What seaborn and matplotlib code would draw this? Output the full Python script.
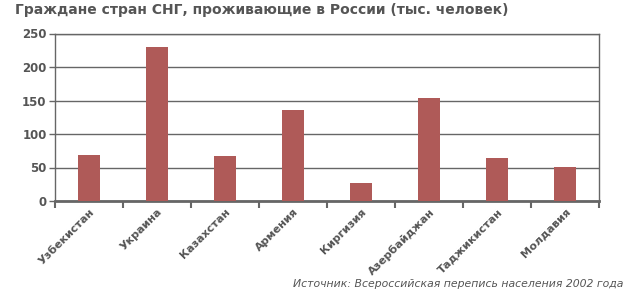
import matplotlib
matplotlib.use("Agg")
import matplotlib.pyplot as plt
import seaborn as sns
import pandas as pd
import numpy as np

countries = ["Узбекистан", "Украина", "Казахстан", "Армения", "Киргизия",
             "Азербайджан", "Таджикистан", "Молдавия"]
values = [69, 230, 67, 136, 27, 154, 64, 51]
yticks = [0, 50, 100, 150, 200, 250]

title = "Граждане стран СНГ, проживающие в России (тыс. человек)"
source = "Источник: Всероссийская перепись населения 2002 года"

sns.set_theme(style="white")
plt.rcParams['font.family'] = ['DejaVu Sans']

df = pd.DataFrame({"country": countries, "value": values})

fig = plt.figure(figsize=(6.29, 2.93), dpi=100)
ax = fig.add_axes([55/629, 1-201/293, (599-55)/629, (201-33.5)/293])

sns.barplot(data=df, x="country", y="value", color="#AF5A58", width=0.32,
            saturation=1, ax=ax, zorder=3, edgecolor="none", linewidth=0)

gc = "#666666"
ax.set_ylim(0, 250)
ax.set_xlim(-0.5, len(countries)-0.5)
ax.set_yticks(yticks)
ax.set_yticklabels([str(v) for v in yticks], fontsize=8.5, fontweight="bold", color="#555555")
ax.yaxis.grid(True, color=gc, linewidth=1.0, zorder=1)
ax.set_axisbelow(True)
for s in ["left", "right", "top"]:
    ax.spines[s].set_color(gc)
    ax.spines[s].set_linewidth(1.0)
ax.spines["bottom"].set_color(gc)
ax.spines["bottom"].set_linewidth(2.0)
ax.tick_params(axis="y", length=4, width=1, color=gc, pad=2, left=True)

ax.set_xticks(range(len(countries)))
ax.set_xticklabels(countries, rotation=45, ha="right", rotation_mode="anchor",
                   fontsize=8, fontweight="bold", color="#555555")
ax.tick_params(axis="x", which="major", length=0, pad=4)
ax.set_xticks(np.arange(-0.5, len(countries), 1.0), minor=True)
ax.tick_params(axis="x", which="minor", length=5, width=1.5, color=gc, bottom=True)
ax.set_xlabel("")
ax.set_ylabel("")

fig.text(15/629, 1-10/293, title, fontsize=10, fontweight="bold", color="#555555",
         ha="left", va="center")
fig.text(623/629, 1-284/293, source, fontsize=7.8, style="italic", color="#555555",
         ha="right", va="center")

fig.savefig("out.png", dpi=100)
